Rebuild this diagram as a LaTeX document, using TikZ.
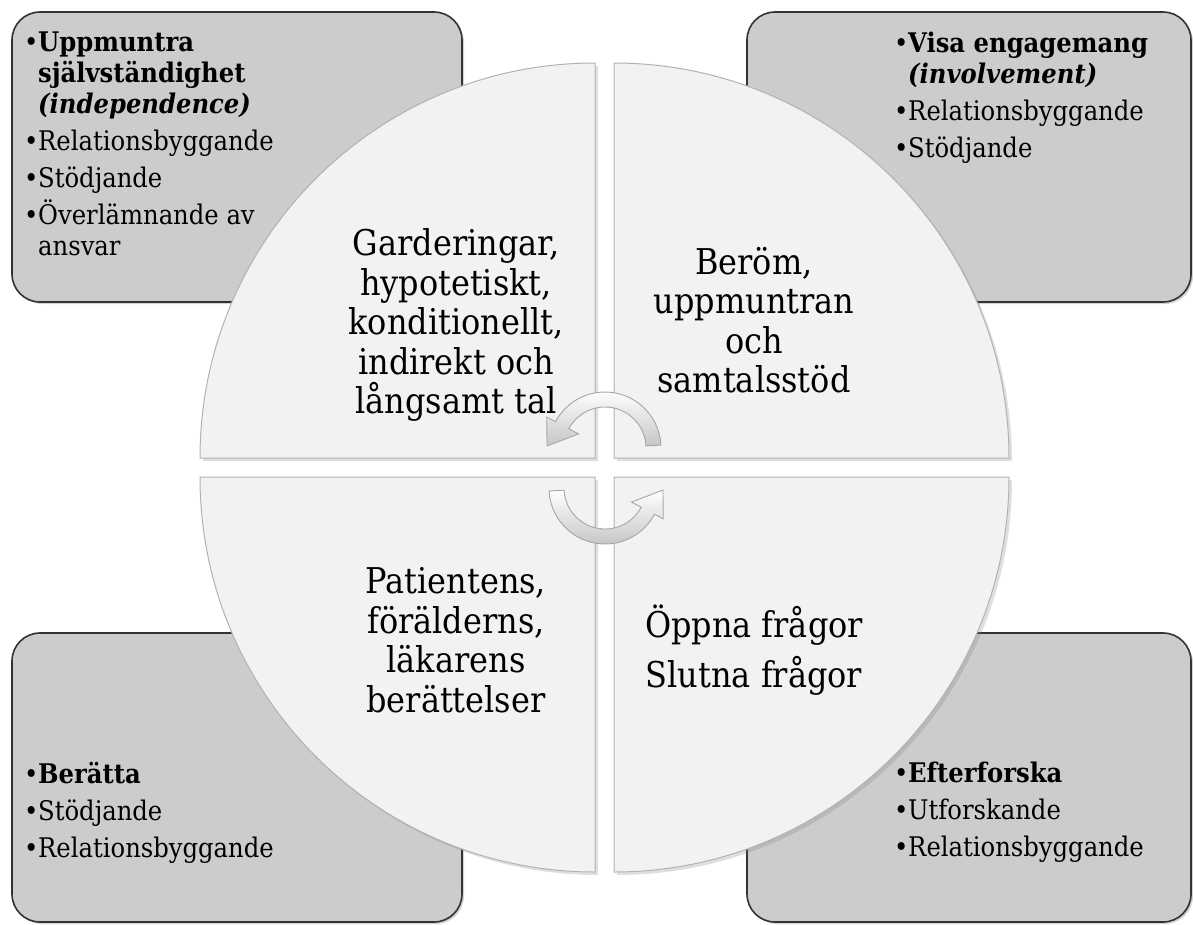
\documentclass[tikz,border=0pt]{standalone}
\usepackage{fontspec}
\setmainfont{DejaVu Serif Condensed}
\usetikzlibrary{shadows}
\definecolor{boxgray}{RGB}{204,204,204}
\definecolor{quadgray}{RGB}{242,242,242}
\newcommand{\pkt}{\makebox[14pt][c]{•}}
\newcommand{\indr}{\hspace*{14pt}}

\begin{document}
\begin{tikzpicture}[x=1pt, y=1pt,
    box/.style={rounded corners=28pt, fill=boxgray, draw=black!80, line width=1.6pt,
        drop shadow={shadow xshift=2pt, shadow yshift=-2pt, opacity=0.35}},
    quad/.style={fill=quadgray, draw=gray!60, line width=1pt,
        drop shadow={shadow xshift=3pt, shadow yshift=-3pt, opacity=0.25}},
    pil/.style={top color=white, bottom color=gray!45, draw=gray!70, line width=0.9pt},
    lista/.style={anchor=north west, inner sep=0pt, align=left, font=\fontsize{27}{31}\selectfont},
    mitt/.style={inner sep=0pt, align=center, font=\fontsize{35.5}{39.5}\selectfont}]
        \useasboundingbox (0,0) rectangle (1193,-924);

        % boxes in the corners
        \draw[box] (12,-12) rectangle (462,-302);
        \draw[box] (747,-12) rectangle (1191,-302);
        \draw[box] (12,-633) rectangle (462,-922);
        \draw[box] (747,-633) rectangle (1191,-922);

        \node[lista] (U) at (24,-32) {\pkt\textbf{Uppmuntra}\\ \indr\textbf{självständighet}\\ \indr\textbf{\textit{(independence)}}\\[6pt]
            \pkt Relationsbyggande\\[6pt] \pkt Stödjande\\[6pt] \pkt Överlämnande av\\ \indr ansvar};
        \node[lista] (V) at (894,-32) {\pkt\textbf{Visa engagemang}\\ \indr\textbf{\textit{(involvement)}}\\[6pt]
            \pkt Relationsbyggande\\[6pt] \pkt Stödjande};
        \node[lista] (B) at (24,-762) {\pkt\textbf{Berätta}\\[6pt] \pkt Stödjande\\[6pt] \pkt Relationsbyggande};
        \node[lista] (E) at (894,-762) {\pkt\textbf{Efterforska}\\[6pt] \pkt Utforskande\\[6pt] \pkt Relationsbyggande};

        % the four quarters of the circle
        \draw[quad] (595,-458) -- (200,-458) arc[start angle=180, end angle=90, radius=395] -- cycle;
        \draw[quad] (614,-458) -- (614,-63) arc[start angle=90, end angle=0, radius=395] -- cycle;
        \draw[quad] (595,-477) -- (595,-872) arc[start angle=270, end angle=180, radius=395] -- cycle;
        \draw[quad] (614,-477) -- (1009,-477) arc[start angle=0, end angle=-90, radius=395] -- cycle;

        \node[mitt] (G) at (456,-325) {Garderingar,\\ hypotetiskt,\\ konditionellt,\\ indirekt och\\ långsamt tal};
        \node[mitt] (R) at (754,-320) {Beröm,\\ uppmuntran\\ och\\ samtalsstöd};
        \node[mitt] (P) at (456,-640) {Patientens,\\ förälderns,\\ läkarens\\ berättelser};
        \node[mitt] (F) at (754,-650) {Öppna frågor\\[11pt] Slutna frågor};

        % round arrows in the middle
        \draw[pil, shift={(605,-448)}] (3:56) arc[start angle=3, end angle=152, radius=56] -- (152:66)
            -- (178:58) -- (152:30) -- (152:41) arc[start angle=152, end angle=3, radius=41] -- cycle;
        \draw[pil, shift={(605,-488)}] (183:56) arc[start angle=183, end angle=332, radius=56] -- (332:66)
            -- (358:58) -- (332:30) -- (332:41) arc[start angle=332, end angle=183, radius=41] -- cycle;

\end{tikzpicture}
\end{document}
